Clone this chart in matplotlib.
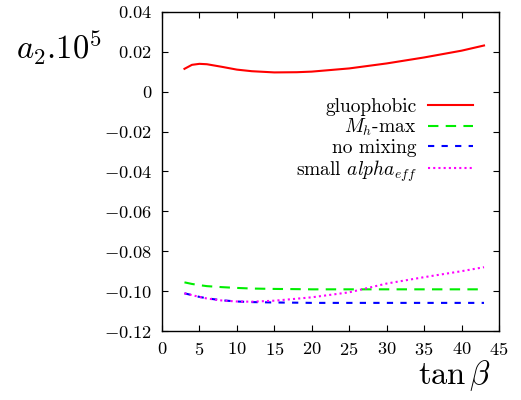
import matplotlib
matplotlib.use("Agg")
import matplotlib.pyplot as plt
from matplotlib.ticker import FuncFormatter, MultipleLocator

plt.rcParams["font.family"] = "serif"
plt.rcParams["font.serif"] = ["cmr10", "DejaVu Serif"]
plt.rcParams["mathtext.fontset"] = "cm"
plt.rcParams["axes.unicode_minus"] = False

tanb = [3, 4, 5, 6, 8, 10, 12, 15, 18, 20, 25, 30, 35, 40, 43]

gluophobic = [0.0115, 0.0135, 0.0140, 0.0138, 0.0125, 0.0111, 0.0103, 0.0097,
              0.0098, 0.0101, 0.0117, 0.0142, 0.0172, 0.0206, 0.0232]
mh_max = [-0.0956, -0.0964, -0.0970, -0.0975, -0.0980, -0.0984, -0.0987, -0.0989,
          -0.0990, -0.0991, -0.0991, -0.0991, -0.0991, -0.0991, -0.0991]
no_mixing = [-0.1011, -0.1020, -0.1029, -0.1036, -0.1046, -0.1052, -0.1055, -0.1057,
             -0.1058, -0.1059, -0.1059, -0.1059, -0.1059, -0.1059, -0.1059]
small_alpha = [-0.1011, -0.1020, -0.1029, -0.1037, -0.1047, -0.1052, -0.1053, -0.1048,
               -0.1038, -0.1031, -0.1006, -0.0962, -0.0930, -0.0900, -0.0880]

fig = plt.figure(figsize=(5.21, 4.0), dpi=100)
ax = fig.add_axes([162 / 521, 1 - 331 / 400, (499 - 162) / 521, (331 - 12) / 400])

lw = 1.5
ax.plot(tanb, gluophobic, color="red", lw=lw, label="gluophobic")
ax.plot(tanb, mh_max, color="#00ee00", lw=lw, dashes=(5, 3.5), label="$M_h$-max")
ax.plot(tanb, no_mixing, color="blue", lw=lw, dashes=(3, 3.5), label="no mixing")
ax.plot(tanb, small_alpha, color="magenta", lw=lw, dashes=(1, 1.5),
        label="small $alpha_{eff}$")

ax.set_xlim(0, 45)
ax.set_ylim(-0.12, 0.04)
ax.xaxis.set_major_locator(MultipleLocator(5))
ax.yaxis.set_major_locator(MultipleLocator(0.02))
ax.xaxis.set_major_formatter(FuncFormatter(lambda v, p: f"${v:g}$"))
ax.yaxis.set_major_formatter(
    FuncFormatter(lambda v, p: "$0$" if abs(v) < 1e-9 else f"${v:.2f}$"))
ax.tick_params(direction="in", top=True, right=True, length=4.5, width=0.8,
               labelsize=13.3, pad=7)
for s in ax.spines.values():
    s.set_linewidth(1.0)

fig.text(16 / 521, 1 - 48 / 400, r"$a_2.10^5$", fontsize=23.5, va="center", ha="left")
fig.text(491 / 521, 1 - 376 / 400, r"$\tan\beta$", fontsize=23.5, va="center", ha="right")

ax.legend(loc="upper right", bbox_to_anchor=(481 / 521, 1 - 90 / 400),
          bbox_transform=fig.transFigure, frameon=False, markerfirst=False,
          fontsize=14, handlelength=2.35, labelspacing=0.05, handletextpad=0.55,
          borderaxespad=0)

fig.savefig("out.png", dpi=100)
